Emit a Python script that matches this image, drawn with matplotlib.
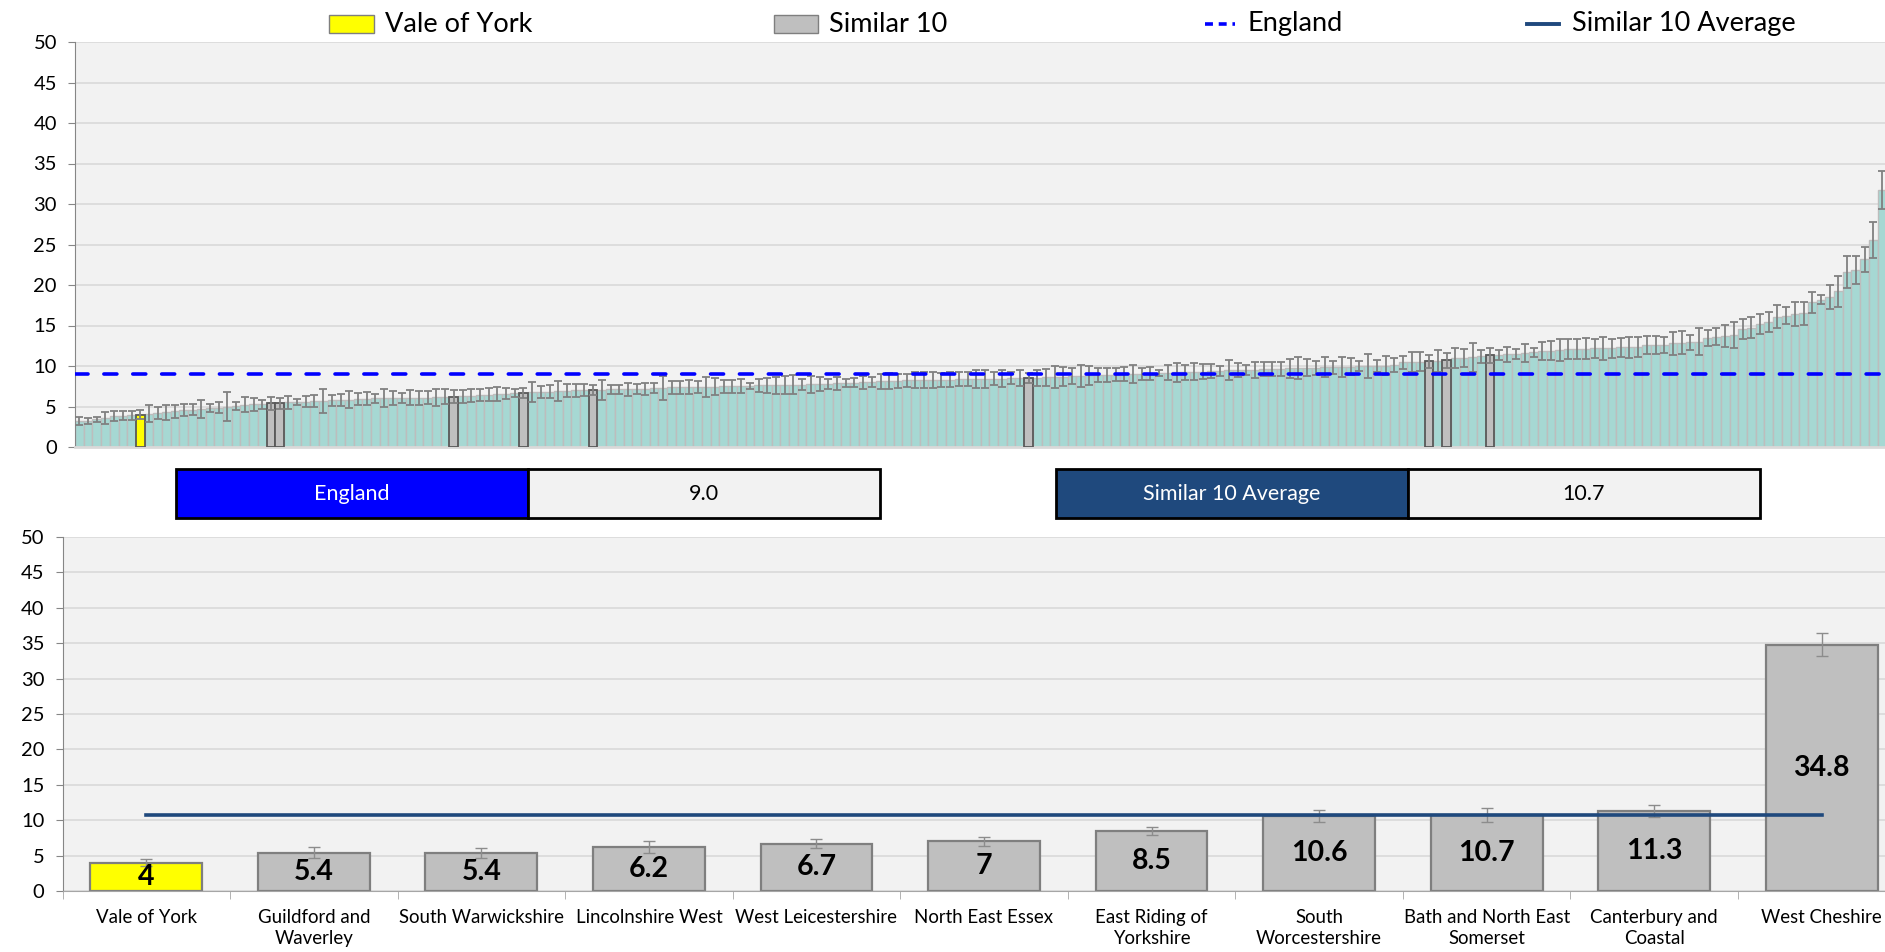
import textwrap
import matplotlib
matplotlib.use('Agg')
import matplotlib.pyplot as plt
from matplotlib.patches import Rectangle
from matplotlib.lines import Line2D
import numpy as np

plt.rcParams['font.family'] = ['Lato', 'DejaVu Sans']

england = 9.0
similar_avg = 10.7

# every CCG in England, ranked low to high (last one is off the right edge)
ccg_values = [
    3.2, 3.2, 3.4, 3.6, 3.8, 3.85, 3.9, 4.0, 4.1, 4.2,
    4.3, 4.4, 4.55, 4.6, 4.7, 4.8, 4.85, 5.0, 5.1, 5.2,
    5.25, 5.3, 5.4, 5.4, 5.5, 5.55, 5.6, 5.65, 5.7, 5.75,
    5.8, 5.85, 5.9, 5.95, 6.0, 6.05, 6.05, 6.05, 6.1, 6.1,
    6.1, 6.15, 6.2, 6.2, 6.25, 6.3, 6.4, 6.45, 6.55, 6.6,
    6.65, 6.7, 6.8, 6.8, 6.85, 6.9, 6.95, 7.0, 7.0, 7.0,
    7.05, 7.1, 7.1, 7.1, 7.15, 7.15, 7.25, 7.3, 7.35, 7.35,
    7.4, 7.4, 7.4, 7.45, 7.5, 7.5, 7.55, 7.55, 7.6, 7.6,
    7.6, 7.65, 7.7, 7.7, 7.75, 7.8, 7.8, 7.85, 7.9, 7.95,
    8.0, 8.0, 8.1, 8.15, 8.2, 8.25, 8.25, 8.3, 8.3, 8.3,
    8.3, 8.35, 8.4, 8.4, 8.4, 8.45, 8.45, 8.5, 8.5, 8.5,
    8.55, 8.6, 8.65, 8.7, 8.75, 8.8, 8.85, 8.9, 8.9, 8.95,
    9.0, 9.0, 9.05, 9.05, 9.1, 9.15, 9.2, 9.25, 9.3, 9.3,
    9.35, 9.4, 9.45, 9.5, 9.5, 9.55, 9.6, 9.6, 9.65, 9.7,
    9.75, 9.8, 9.8, 9.85, 9.85, 9.9, 9.9, 9.95, 10.0, 10.0,
    10.05, 10.1, 10.45, 10.5, 10.55, 10.6, 10.65, 10.7, 11.0, 11.0,
    11.05, 11.2, 11.3, 11.4, 11.45, 11.5, 11.6, 11.7, 11.85, 11.9,
    12.0, 12.1, 12.1, 12.15, 12.2, 12.2, 12.2, 12.3, 12.3, 12.4,
    12.6, 12.6, 12.6, 12.8, 12.9, 12.95, 13.0, 13.5, 13.6, 13.7,
    13.85, 14.55, 14.75, 15.2, 15.4, 16.1, 16.2, 16.4, 16.5, 17.85,
    18.2, 18.5, 19.2, 21.65, 21.85, 23.2, 25.55, 31.7, 34.8,
]
ccg_err = [
    0.51, 0.41, 0.31, 0.72, 0.61, 0.57, 0.57, 0.57, 1.07, 0.72,
    0.92, 0.76, 0.78, 0.66, 1.13, 0.51, 0.68, 1.74, 0.51, 0.92,
    0.86, 0.55, 0.8, 0.7, 0.82, 0.35, 0.66, 0.72, 1.48, 0.7,
    0.76, 1.09, 0.76, 0.82, 0.57, 1.17, 0.92, 0.59, 0.96, 0.86,
    0.78, 1.07, 0.9, 0.8, 0.82, 0.8, 0.78, 0.82, 0.88, 0.68,
    0.51, 0.6, 1.19, 0.76, 0.86, 1.25, 0.82, 0.82, 0.72, 0.6,
    1.23, 0.59, 0.51, 0.76, 0.66, 0.7, 0.64, 1.48, 0.82, 0.82,
    0.86, 0.78, 1.27, 1.09, 0.8, 0.8, 0.86, 0.39, 0.82, 0.92,
    1.02, 1.1, 1.13, 0.68, 1.07, 0.9, 0.61, 0.78, 0.51, 0.57,
    0.82, 0.61, 0.92, 1.02, 0.86, 0.82, 0.96, 1.02, 1.02, 0.86,
    0.9, 0.86, 0.92, 1.07, 1.1, 0.82, 1.03, 0.72, 1.03, 0.6,
    0.97, 1.07, 1.4, 1.23, 1.0, 1.38, 1.17, 0.88, 0.82, 0.86,
    0.82, 1.13, 0.76, 0.8, 0.37, 0.93, 1.21, 0.93, 1.07, 0.95,
    0.88, 0.58, 1.23, 0.86, 0.62, 0.99, 0.86, 0.86, 0.88, 1.19,
    1.4, 1.03, 0.86, 1.21, 0.78, 1.23, 1.07, 0.62, 1.54, 0.72,
    1.13, 0.86, 0.78, 1.28, 1.17, 0.8, 1.38, 0.9, 1.23, 1.15,
    1.75, 0.82, 0.9, 0.62, 0.93, 0.66, 1.15, 0.58, 1.15, 1.13,
    1.38, 1.23, 1.19, 1.3, 1.17, 1.42, 1.18, 1.2, 1.28, 1.24,
    1.11, 1.11, 0.97, 1.42, 1.44, 0.93, 1.63, 0.97, 1.05, 1.34,
    1.59, 1.24, 1.24, 1.24, 1.24, 1.44, 1.07, 1.48, 1.38, 1.28,
    0.58, 1.44, 1.92, 1.96, 1.75, 1.55, 2.27, 2.33, 1.65,
]

# Vale of York and its similar 10
names = ['Vale of York', 'Guildford and Waverley', 'South Warwickshire', 'Lincolnshire West',
         'West Leicestershire', 'North East Essex', 'East Riding of Yorkshire',
         'South Worcestershire', 'Bath and North East Somerset', 'Canterbury and Coastal',
         'West Cheshire']
values = [4, 5.4, 5.4, 6.2, 6.7, 7, 8.5, 10.6, 10.7, 11.3, 34.8]
err = [0.5, 0.8, 0.7, 0.8, 0.6, 0.6, 0.6, 0.8, 1.0, 0.9, 1.6]
rank = [7, 22, 23, 43, 51, 59, 109, 155, 157, 162, 208]  # position in England ranking

W, H = 1885, 952
fig = plt.figure(figsize=(W / 100, H / 100), dpi=100)

def box(x0, y0, x1, y1):
    return [x0 / W, 1 - y1 / H, (x1 - x0) / W, (y1 - y0) / H]

def style(ax):
    ax.set_facecolor('#F2F2F2')
    ax.set_ylim(0, 50)
    ax.set_yticks(np.arange(0, 51, 5))
    ax.grid(axis='y', color='#D9D9D9', lw=1.2, zorder=0)
    ax.set_axisbelow(True)
    for s in ['top', 'right']:
        ax.spines[s].set_visible(False)
    ax.spines['left'].set_color('#868686')
    ax.tick_params(axis='y', labelsize=14.5, length=5, color='#868686', pad=8)

# ---- top: all CCGs ----
ax1 = fig.add_axes(box(75, 42, 1895, 447))
style(ax1)
x = np.arange(len(ccg_values))
ax1.bar(x, ccg_values, width=1.0, color='#A6D8D3', edgecolor='#BDBDBD', linewidth=1.0, zorder=2)
cols = ['#FFFF00'] + ['#BFBFBF'] * (len(values) - 1)
ax1.bar(rank, values, width=1.0, color=cols, edgecolor='#595959', linewidth=1.3, zorder=3)
ax1.errorbar(x, ccg_values, yerr=ccg_err, fmt='none', ecolor='#808080',
             elinewidth=1.3, capsize=3, capthick=1.3, zorder=4)
ax1.axhline(england, color='#0000FF', lw=2.6, dashes=(3.6, 4.4), dash_capstyle='round', zorder=5)
ax1.set_xlim(-0.5, len(ccg_values) - 0.5)
ax1.set_xticks([])
ax1.spines['bottom'].set_color('#D9D9D9')
ax1.spines['bottom'].set_linewidth(2)

# ---- bottom: similar 10 ----
ax2 = fig.add_axes(box(62.5, 537, 1905.5, 891))
style(ax2)
xb = np.arange(len(values))
ax2.bar(xb, values, width=0.667, color=cols, edgecolor='#7F7F7F', linewidth=1.6, zorder=2)
ax2.errorbar(xb, values, yerr=err, fmt='none', ecolor='#8C8C8C', elinewidth=1, capsize=4, zorder=3)
ax2.plot([xb[0], xb[-1]], [similar_avg, similar_avg], color='#1F497D', lw=2.6, zorder=4)
for xi, v in zip(xb, values):
    ax2.text(xi, v / 2, f'{v:g}', ha='center', va='center', fontsize=20.5, fontweight='bold', zorder=5)
ax2.set_xlim(-0.5, len(values) - 0.5)
ax2.set_xticks(xb)
ax2.set_xticklabels([textwrap.fill(n, 19) for n in names], fontsize=13.4, linespacing=1.25)
ax2.set_xticks(np.arange(-0.5, len(values), 1), minor=True)
ax2.tick_params(axis='x', which='major', length=0, pad=13)
ax2.tick_params(axis='x', which='minor', length=6, color='#A6A6A6')
ax2.spines['bottom'].set_color('#A6A6A6')

# ---- legend ----
ly = 1 - 24 / H
lh = 17 / H
fs = 19.5
fig.add_artist(Rectangle((329 / W, ly - lh / 2), 45 / W, lh, transform=fig.transFigure,
                         fc='#FFFF00', ec='#7F7F7F', lw=1))
fig.text(385 / W, ly, 'Vale of York', fontsize=fs, va='center')
fig.add_artist(Rectangle((774 / W, ly - lh / 2), 44 / W, lh, transform=fig.transFigure,
                         fc='#BFBFBF', ec='#7F7F7F', lw=1))
fig.text(829 / W, ly, 'Similar 10', fontsize=fs, va='center')
fig.add_artist(Line2D([1205 / W, 1235 / W], [ly, ly], transform=fig.transFigure,
                      color='#0000FF', lw=2.6, dashes=(2.2, 1.6)))
fig.text(1247 / W, ly, 'England', fontsize=fs, va='center')
fig.add_artist(Line2D([1527 / W, 1559 / W], [ly, ly], transform=fig.transFigure,
                      color='#1F497D', lw=2.8))
fig.text(1572 / W, ly, 'Similar 10 Average', fontsize=fs, va='center')

# ---- summary boxes ----
def summary(x0, label, value, colour):
    y0, y1 = 469, 518
    fig.add_artist(Rectangle((x0 / W, 1 - y1 / H), 352 / W, (y1 - y0) / H,
                             transform=fig.transFigure, fc=colour, ec='black', lw=2))
    fig.add_artist(Rectangle(((x0 + 352) / W, 1 - y1 / H), 352 / W, (y1 - y0) / H,
                             transform=fig.transFigure, fc='#F2F2F2', ec='black', lw=2))
    yc = 1 - (y0 + y1) / 2 / H
    fig.text((x0 + 176) / W, yc, label, color='white', fontsize=15.5, ha='center', va='center')
    fig.text((x0 + 528) / W, yc, f'{value:.1f}', color='black', fontsize=15.5, ha='center', va='center')

summary(175.5, 'England', england, '#0000FF')
summary(1055.5, 'Similar 10 Average', similar_avg, '#1F497D')

fig.savefig('out.png', dpi=100)
